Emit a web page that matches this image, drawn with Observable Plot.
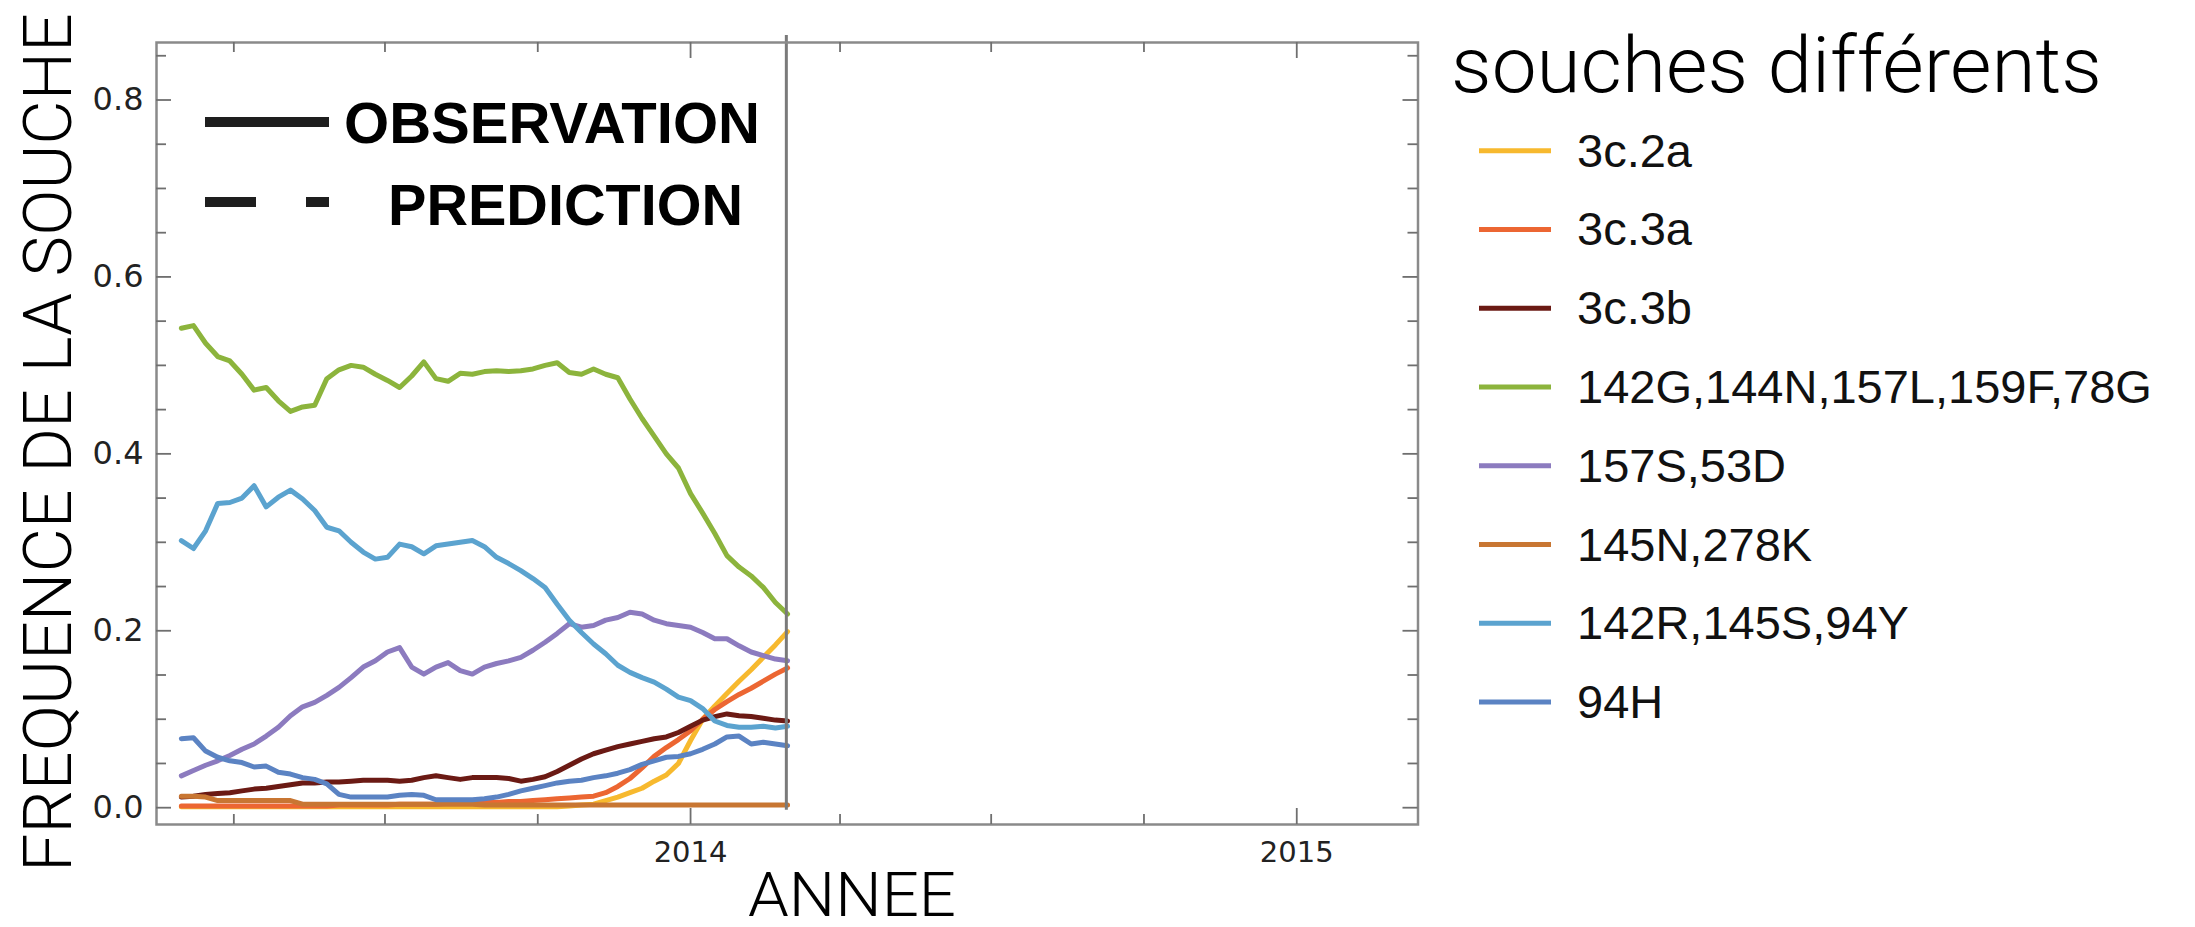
<!DOCTYPE html>
<html>
<head>
<meta charset="utf-8">
<script src="https://cdn.jsdelivr.net/npm/d3@7"></script>
<script src="https://cdn.jsdelivr.net/npm/@observablehq/plot@0.6"></script>
<style>
  html, body { margin: 0; padding: 0; background: #fff; overflow: hidden; }
  #chart { width: 2195px; height: 927px; }
</style>
</head>
<body>
<div id="chart"></div>
<script>
// ---- data (decimal years, frequencies) ----
const years = [2013.16,2013.18,2013.20,2013.22,2013.24,2013.26,2013.28,2013.30,2013.32,2013.34,
  2013.36,2013.38,2013.40,2013.42,2013.44,2013.46,2013.48,2013.50,2013.52,2013.54,
  2013.56,2013.58,2013.60,2013.62,2013.64,2013.66,2013.68,2013.70,2013.72,2013.74,
  2013.76,2013.78,2013.80,2013.82,2013.84,2013.86,2013.88,2013.90,2013.92,2013.94,
  2013.96,2013.98,2014.00,2014.02,2014.04,2014.06,2014.08,2014.10,2014.12,2014.14,2014.16];

const series = ["3c.2a","3c.3a","3c.3b","142G,144N,157L,159F,78G","157S,53D","145N,278K","142R,145S,94Y","94H"];
const colors = ["#f7b92e","#ec6632","#6b1a14","#8cb43c","#8c7bbf","#c87632","#5ba3cf","#5b83c3"];

const s3c2a = [0.001,0.001,0.001,0.001,0.001,0.001,0.001,0.001,0.001,0.001,
  0.001,0.001,0.001,0.001,0.001,0.001,0.001,0.001,0.001,0.001,
  0.001,0.001,0.001,0.001,0.001,0.001,0.001,0.001,0.001,0.001,
  0.001,0.001,0.002,0.003,0.004,0.008,0.012,0.017,0.022,0.030,
  0.037,0.050,0.076,0.100,0.115,0.129,0.143,0.156,0.170,0.184,0.199];
const s3c3a = [0.002,0.002,0.002,0.002,0.002,0.002,0.002,0.002,0.002,0.002,
  0.002,0.002,0.002,0.003,0.003,0.003,0.003,0.003,0.004,0.004,
  0.004,0.004,0.005,0.005,0.005,0.006,0.006,0.007,0.007,0.008,
  0.009,0.010,0.011,0.012,0.013,0.017,0.024,0.033,0.045,0.058,
  0.068,0.077,0.087,0.100,0.111,0.120,0.128,0.135,0.143,0.151,0.158];
const s3c3b = [0.012,0.013,0.015,0.016,0.017,0.019,0.021,0.022,0.024,0.026,
  0.028,0.028,0.029,0.029,0.030,0.031,0.031,0.031,0.030,0.031,
  0.034,0.036,0.034,0.032,0.034,0.034,0.034,0.033,0.030,0.032,
  0.035,0.041,0.048,0.055,0.061,0.065,0.069,0.072,0.075,0.078,
  0.080,0.085,0.092,0.099,0.103,0.106,0.104,0.103,0.101,0.099,0.098];
const s142G = [0.542,0.545,0.525,0.510,0.505,0.490,0.472,0.475,0.460,0.448,
  0.453,0.455,0.485,0.495,0.500,0.498,0.490,0.483,0.475,0.488,
  0.504,0.485,0.482,0.491,0.490,0.493,0.494,0.493,0.494,0.496,
  0.500,0.503,0.492,0.490,0.496,0.490,0.486,0.462,0.440,0.420,
  0.400,0.384,0.355,0.333,0.310,0.285,0.272,0.262,0.249,0.232,0.219];
const s157S = [0.036,0.042,0.048,0.053,0.059,0.066,0.072,0.081,0.091,0.104,
  0.114,0.119,0.127,0.136,0.147,0.159,0.166,0.176,0.181,0.159,
  0.151,0.159,0.164,0.155,0.151,0.159,0.163,0.166,0.170,0.178,
  0.187,0.197,0.208,0.204,0.206,0.212,0.215,0.221,0.219,0.212,
  0.208,0.206,0.204,0.198,0.191,0.191,0.183,0.176,0.172,0.168,0.166];
const s145N = [0.013,0.013,0.012,0.008,0.008,0.008,0.008,0.008,0.008,0.008,
  0.004,0.004,0.004,0.004,0.004,0.004,0.004,0.004,0.004,0.004,
  0.004,0.004,0.004,0.004,0.004,0.003,0.003,0.003,0.003,0.003,
  0.003,0.003,0.003,0.003,0.003,0.003,0.003,0.003,0.003,0.003,
  0.003,0.003,0.003,0.003,0.003,0.003,0.003,0.003,0.003,0.003,0.003];
const s142R = [0.302,0.293,0.313,0.344,0.345,0.350,0.364,0.340,0.351,0.359,
  0.349,0.336,0.317,0.313,0.300,0.289,0.281,0.283,0.298,0.295,
  0.287,0.296,0.298,0.300,0.302,0.295,0.283,0.276,0.268,0.259,
  0.249,0.230,0.212,0.198,0.185,0.174,0.161,0.153,0.147,0.142,
  0.134,0.125,0.121,0.112,0.098,0.093,0.091,0.091,0.092,0.090,0.092];
const s94H = [0.078,0.079,0.064,0.057,0.053,0.051,0.046,0.047,0.040,0.038,
  0.034,0.032,0.027,0.015,0.012,0.012,0.012,0.012,0.014,0.015,
  0.014,0.009,0.009,0.009,0.009,0.010,0.012,0.015,0.019,0.022,
  0.025,0.028,0.030,0.031,0.034,0.036,0.039,0.043,0.049,0.053,
  0.057,0.058,0.061,0.066,0.072,0.080,0.081,0.072,0.074,0.072,0.070];
const seriesValues = [s3c2a, s3c3a, s3c3b, s142G, s157S, s145N, s142R, s94H];

const quarterTicks = ["2013-04-01","2013-07-01","2013-10-01","2014-01-01","2014-04-01","2014-07-01","2014-10-01","2015-01-01"];
const yearTicks = ["2014-01-01","2015-01-01"];
const yearLabels = ["2014","2015"];
const yMajor = [0,0.2,0.4,0.6,0.8];
const yMinor = [0.05,0.1,0.15,0.25,0.3,0.35,0.45,0.5,0.55,0.65,0.7,0.75,0.85];
const xDomainYears = [2013.119, 2015.2];
const yDomain = [-0.019, 0.865];
const observationEnd = 2014.158;

// ---- helpers ----
function yearToDate(y) {
  const Y = Math.floor(y);
  const a = Date.UTC(Y, 0, 1), b = Date.UTC(Y + 1, 0, 1);
  return new Date(a + (y - Y) * (b - a));
}
const rows = [];
series.forEach((s, i) => {
  seriesValues[i].forEach((v, j) => rows.push({series: s, date: yearToDate(years[j]), value: v}));
});

const W = 2195, H = 927;
const mL = 156, mR = 777.5, mT = 42, mB = 103;
const xLo = yearToDate(xDomainYears[0]), xHi = yearToDate(xDomainYears[1]);
const uPerPx = (yDomain[1] - yDomain[0]) / (H - mT - mB);
const msPerPx = (xHi - xLo) / (W - mL - mR);
const qDates = quarterTicks.map(d => new Date(d + "T00:00:00Z"));
const isYear = d => d.getUTCMonth() === 0;
const xtLen = d => (isYear(d) ? 16 : 10) * uPerPx;
const yAll = yMajor.concat(yMinor);
const ytLen = d => (yMajor.includes(d) ? 15 : 10) * msPerPx;
const tickStroke = "#6f6f6f";

const chart = Plot.plot({
  width: W, height: H,
  marginLeft: mL, marginRight: mR, marginTop: mT, marginBottom: mB,
  style: {background: "#fff", overflow: "visible"},
  x: {type: "utc", domain: [xLo, xHi], axis: null},
  y: {domain: yDomain, axis: null},
  color: {domain: series, range: colors},
  marks: [
    Plot.line(rows, {x: "date", y: "value", z: "series", stroke: "series", strokeWidth: 5, strokeLinejoin: "round", strokeLinecap: "round"}),
    Plot.ruleX([yearToDate(observationEnd)], {x: d => d, y1: -0.003, y2: 0.873, stroke: "#7a7a7a", strokeWidth: 3}),
    Plot.frame({stroke: "#8a8a8a", strokeWidth: 2.5}),
    Plot.ruleX(qDates, {x: d => d, y1: yDomain[0], y2: d => yDomain[0] + xtLen(d), stroke: tickStroke, strokeWidth: 1.8}),
    Plot.ruleX(qDates, {x: d => d, y1: yDomain[1], y2: d => yDomain[1] - xtLen(d), stroke: tickStroke, strokeWidth: 1.8}),
    Plot.ruleY(yAll, {y: d => d, x1: xLo, x2: d => new Date(+xLo + ytLen(d)), stroke: tickStroke, strokeWidth: 1.8}),
    Plot.ruleY(yAll, {y: d => d, x1: xHi, x2: d => new Date(+xHi - ytLen(d)), stroke: tickStroke, strokeWidth: 1.8}),
    Plot.text(yMajor, {x: xLo, y: d => d, text: d => d.toFixed(1), textAnchor: "end", dx: -13, fontSize: 32, fontFamily: "DejaVu Sans", fill: "#222"}),
    Plot.text(yearTicks.map(d => new Date(d + "T00:00:00Z")), {x: d => d, y: yDomain[0], text: (d, i) => yearLabels[i], dy: 28, fontSize: 29, fontFamily: "DejaVu Sans", fill: "#222"})
  ]
});
document.getElementById("chart").appendChild(chart);

// ---- annotations / legends ----
const svg = d3.select(chart);
const ink = "#1e1e1e";
svg.append("line").attr("x1", 205).attr("x2", 329).attr("y1", 122).attr("y2", 122)
  .attr("stroke", ink).attr("stroke-width", 10);
svg.append("line").attr("x1", 205).attr("x2", 329).attr("y1", 202).attr("y2", 202)
  .attr("stroke", ink).attr("stroke-width", 10).attr("stroke-dasharray", "51 50");
svg.append("text").attr("x", 344).attr("y", 143).attr("text-anchor", "start").text("OBSERVATION")
  .attr("font-family", "Liberation Sans, Arial, sans-serif").attr("font-weight", "bold").attr("font-size", 57)
  .attr("textLength", 416).attr("lengthAdjust", "spacingAndGlyphs").attr("fill", "#000");
svg.append("text").attr("x", 388).attr("y", 225).attr("text-anchor", "start").text("PREDICTION")
  .attr("font-family", "Liberation Sans, Arial, sans-serif").attr("font-weight", "bold").attr("font-size", 57)
  .attr("textLength", 355).attr("lengthAdjust", "spacingAndGlyphs").attr("fill", "#000");

svg.append("text").attr("transform", "translate(71,442.5) rotate(-90)").attr("text-anchor", "middle")
  .text("FREQUENCE DE LA SOUCHE")
  .attr("font-family", "Roboto, sans-serif").attr("font-weight", 300).attr("font-size", 67)
  .attr("textLength", 859).attr("lengthAdjust", "spacingAndGlyphs").attr("fill", "#000");
svg.append("text").attr("x", 852).attr("y", 916).attr("text-anchor", "middle").text("ANNEE")
  .attr("font-family", "Roboto, sans-serif").attr("font-weight", 300).attr("font-size", 62)
  .attr("textLength", 208).attr("lengthAdjust", "spacingAndGlyphs").attr("fill", "#000");

svg.append("text").attr("x", 1451).attr("y", 92).attr("text-anchor", "start").text("souches différents")
  .attr("font-family", "Roboto, sans-serif").attr("font-weight", 300).attr("font-size", 78)
  .attr("textLength", 651).attr("lengthAdjust", "spacingAndGlyphs").attr("fill", "#000");
const lg = svg.append("g");
series.forEach((s, i) => {
  const cy = 150.7 + 78.76 * i;
  lg.append("line").attr("x1", 1479).attr("x2", 1551).attr("y1", cy).attr("y2", cy)
    .attr("stroke", colors[i]).attr("stroke-width", 5);
  lg.append("text").attr("x", 1577).attr("y", cy + 16).attr("text-anchor", "start").text(s)
    .attr("font-family", "Liberation Sans, Arial, sans-serif").attr("font-size", 47).attr("fill", "#111");
});
</script>
</body>
</html>
